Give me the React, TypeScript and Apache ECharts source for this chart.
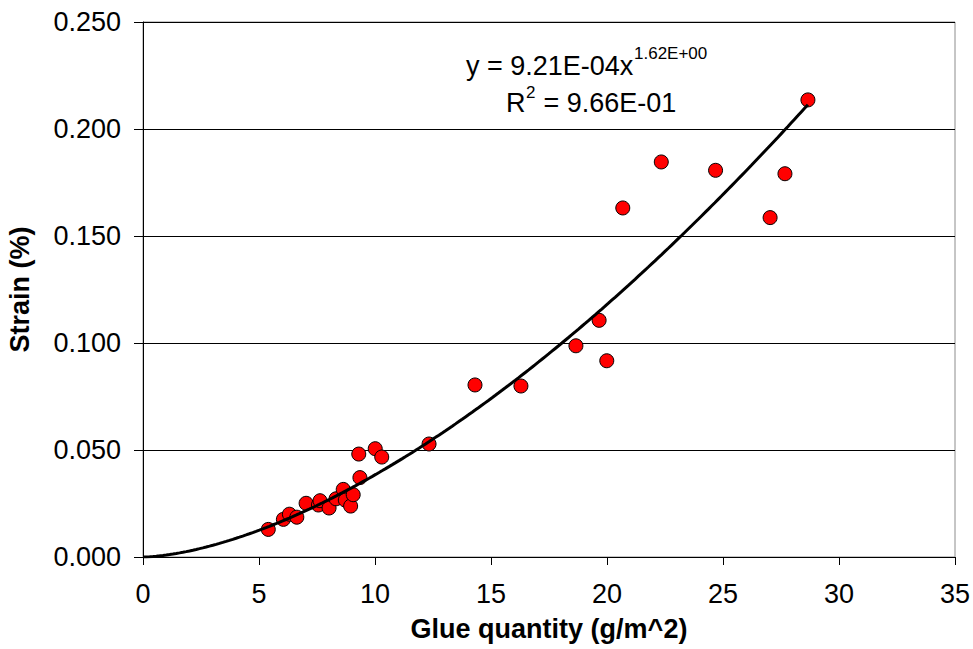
import React, { useEffect, useRef } from "react";
import * as echarts from "echarts";

// Measured glue quantity (g/m^2) and corresponding strain (%)
const glueQuantity = [
  5.4, 6.05, 6.31, 6.63, 7.03, 7.56, 7.63, 8.02, 8.32, 8.63, 8.72, 8.95, 9.06,
  9.35, 9.3, 10.01, 10.29, 12.33, 14.31, 16.29, 18.66, 19.66, 19.99, 20.68,
  22.34, 24.68, 27.03, 27.67, 28.66,
];
const strain = [
  0.0129, 0.0176, 0.02, 0.0186, 0.0251, 0.0243, 0.0263, 0.0229, 0.0272, 0.0316,
  0.0266, 0.0238, 0.0291, 0.0371, 0.0481, 0.0506, 0.0467, 0.0528, 0.0804,
  0.0799, 0.0987, 0.1106, 0.0917, 0.1631, 0.1846, 0.1807, 0.1586, 0.1791,
  0.2136,
];

// Power-law trend line y = a * x^b
const fitCoefficient = 9.21e-4;
const fitExponent = 1.62;
const fitCoefficientLabel = "9.21E-04";
const fitExponentLabel = "1.62E+00";
const rSquaredLabel = "9.66E-01";

const xRange = [0, 35];
const yRange = [0, 0.25];
const xStep = 5;
const yStep = 0.05;

const FONT = "'Liberation Sans', Arial, Helvetica, sans-serif";

export default function App() {
  const ref = useRef<HTMLDivElement>(null);

  useEffect(() => {
    if (!ref.current) return;
    const chart = echarts.init(ref.current, null, { renderer: "svg" });

    const points = glueQuantity.map((x, i) => [x, strain[i]]);
    const xMax = Math.max(...glueQuantity);
    const trend: number[][] = [];
    const steps = 200;
    for (let i = 0; i <= steps; i++) {
      const x = (xMax * i) / steps;
      trend.push([x, fitCoefficient * Math.pow(x, fitExponent)]);
    }

    chart.setOption({
      animation: false,
      backgroundColor: "#ffffff",
      grid: {
        left: 143,
        right: 18,
        top: 22,
        bottom: 92,
        containLabel: false,
        outerBoundsMode: "none",
        show: true,
        borderColor: "#8c8c8c",
        borderWidth: 1,
      },
      xAxis: {
        type: "value",
        min: xRange[0],
        max: xRange[1],
        interval: xStep,
        name: "Glue quantity (g/m^2)",
        nameLocation: "middle",
        nameGap: 58,
        nameTextStyle: {
          fontFamily: FONT,
          fontWeight: "bold",
          fontSize: 27,
          color: "#000",
        },
        axisLine: { onZero: false, lineStyle: { color: "#000", width: 1 } },
        axisTick: { show: true, inside: false, length: 8, lineStyle: { color: "#000" } },
        axisLabel: {
          margin: 23,
          fontFamily: FONT,
          fontSize: 27,
          color: "#000",
        },
        splitLine: { show: false },
      },
      yAxis: {
        type: "value",
        min: yRange[0],
        max: yRange[1],
        interval: yStep,
        name: "Strain (%)",
        nameLocation: "middle",
        nameGap: 110,
        nameTextStyle: {
          fontFamily: FONT,
          fontWeight: "bold",
          fontSize: 27,
          color: "#000",
        },
        axisLine: { show: true, onZero: false, lineStyle: { color: "#000", width: 1 } },
        axisTick: { show: true, inside: false, length: 9, lineStyle: { color: "#000" } },
        axisLabel: {
          margin: 22,
          fontFamily: FONT,
          fontSize: 27,
          color: "#000",
          formatter: (v: number) => v.toFixed(3),
        },
        splitLine: { show: true, lineStyle: { color: "#000", width: 1 } },
      },
      series: [
        {
          type: "scatter",
          data: points,
          symbol: "circle",
          symbolSize: 14,
          itemStyle: {
            color: "#ff0000",
            opacity: 1,
            borderColor: "#000",
            borderWidth: 1,
          },
          z: 2,
        },
        {
          type: "line",
          data: trend,
          showSymbol: false,
          smooth: false,
          lineStyle: { color: "#000", width: 3 },
          z: 3,
        },
      ],
      graphic: [
        {
          type: "text",
          x: 466,
          y: 66,
          style: {
            text: `y = ${fitCoefficientLabel}x`,
            font: `27px ${FONT}`,
            fill: "#000",
            textAlign: "left",
            textVerticalAlign: "middle",
          },
        },
        {
          type: "text",
          x: 634,
          y: 53,
          style: {
            text: fitExponentLabel,
            font: `17px ${FONT}`,
            fill: "#000",
            textAlign: "left",
            textVerticalAlign: "middle",
          },
        },
        {
          type: "text",
          x: 506,
          y: 103,
          style: {
            text: "R",
            font: `27px ${FONT}`,
            fill: "#000",
            textAlign: "left",
            textVerticalAlign: "middle",
          },
        },
        {
          type: "text",
          x: 526,
          y: 92,
          style: {
            text: "2",
            font: `17px ${FONT}`,
            fill: "#000",
            textAlign: "left",
            textVerticalAlign: "middle",
          },
        },
        {
          type: "text",
          x: 536,
          y: 103,
          style: {
            text: ` = ${rSquaredLabel}`,
            font: `27px ${FONT}`,
            fill: "#000",
            textAlign: "left",
            textVerticalAlign: "middle",
          },
        },
      ],
    });

    return () => chart.dispose();
  }, []);

  return (
    <div
      ref={ref}
      style={{ position: "fixed", left: 0, top: 0, width: 973, height: 649 }}
    />
  );
}
